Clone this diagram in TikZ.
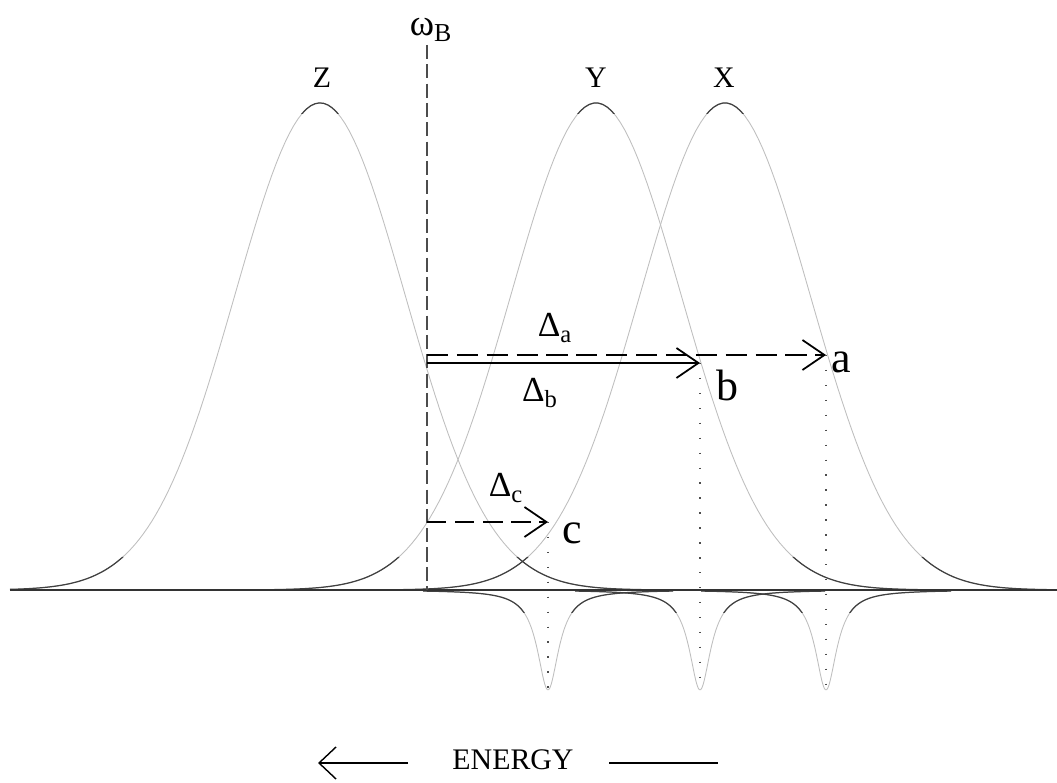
\documentclass[tikz,border=0pt]{standalone}
\usepackage{fontspec}
\setmainfont{Liberation Serif}
\usetikzlibrary{arrows.meta}

\tikzset{
  band/.style={gray!50, line width=0.5pt},
  banddark/.style={black!75, line width=0.7pt},
  shiftarrow/.style={line width=1pt, -{Straight Barb[length=4.4mm,width=6mm]}},
  guide/.style={black!70, line width=1pt, dash pattern=on 0.8pt off 7.7pt},
  lbl/.style={inner sep=0pt},
}

\begin{document}
\begin{tikzpicture}[x=0.02cm, y=0.02cm]
  \useasboundingbox (0,0) rectangle (1057,783);
  % Gaussian bands and holes, faint
  \foreach \c/\lo/\hi in {320/10/650, 596/266/926, 725/395/1055}
    \draw[band] plot[domain=\lo:\hi, samples=150] (\x, {193+487*exp(-0.5*((\x-\c)/85)^2)});
  \foreach \c in {548,700,826}
    \draw[band] plot[domain=\c-125:\c+125, samples=200] (\x, {193-100/(1+((\x-\c)/13)^2)});
  % darker parts near baseline and at the tops
  \begin{scope}
    \clip (0,170) rectangle (1057,226) (0,669) rectangle (1057,690);
    \foreach \c/\lo/\hi in {320/10/650, 596/266/926, 725/395/1055}
      \draw[banddark] plot[domain=\lo:\hi, samples=150] (\x, {193+487*exp(-0.5*((\x-\c)/85)^2)});
    \foreach \c in {548,700,826}
      \draw[banddark] plot[domain=\c-125:\c+125, samples=200] (\x, {193-100/(1+((\x-\c)/13)^2)});
  \end{scope}
  % Baseline
  \draw[line width=1pt, black!80] (10,193) -- (1057,193);
  % Burn frequency
  \node[lbl] (wB) at (431,753) {\fontsize{21}{24}\selectfont ω\textsubscript{B}};
  \coordinate (wtop) at (427,738);
  \coordinate (wbot) at (427,193);
  \draw[black!70, line width=0.6pt, dash pattern=on 8pt off 3pt] (wtop) -- (wbot);
  % Band labels
  \node[lbl] (Z) at (322,705) {\fontsize{17}{20}\selectfont Z};
  \node[lbl] (Y) at (596,705) {\fontsize{17}{20}\selectfont Y};
  \node[lbl] (X) at (724,705) {\fontsize{17}{20}\selectfont X};
  % Shifts
  \coordinate (sa) at (427,428);
  \coordinate (sb) at (427,420);
  \coordinate (sc) at (427,261);
  \coordinate (pa) at (826,428);
  \coordinate (pb) at (700,420);
  \coordinate (pc) at (548,261);
  \coordinate (ha) at (826,93);
  \coordinate (hb) at (700,93);
  \coordinate (hc) at (548,93);
  \draw[shiftarrow, dash pattern=on 12pt off 5pt] (sa) -- (pa);
  \draw[shiftarrow] (sb) -- (pb);
  \draw[shiftarrow, dash pattern=on 11pt off 5pt] (sc) -- (pc);
  \draw[guide] (pa) -- (ha);
  \draw[guide] (pb) -- (hb);
  \draw[guide] (pc) -- (hc);
  \node[lbl] (Da) at (555,455) {\fontsize{20}{24}\selectfont Δ\textsubscript{a}};
  \node[lbl] (Db) at (540,390) {\fontsize{20}{24}\selectfont Δ\textsubscript{b}};
  \node[lbl] (Dc) at (506,295) {\fontsize{20}{24}\selectfont Δ\textsubscript{c}};
  \node[lbl] (a) at (841,421) {\fontsize{25}{30}\selectfont a};
  \node[lbl] (b) at (727,398) {\fontsize{25}{30}\selectfont b};
  \node[lbl] (c) at (572,250) {\fontsize{25}{30}\selectfont c};
  % Energy axis
  \node[lbl] (energy) at (513,23) {\fontsize{17}{20}\selectfont ENERGY};
  \coordinate (el) at (318,20);
  \coordinate (er) at (718,20);
  \draw[line width=0.8pt, -{Straight Barb[length=3.4mm,width=6.4mm]}] ([xshift=-25]energy.west |- el) -- (el);
  \draw[line width=0.8pt] ([xshift=20]energy.east |- er) -- (er);
\end{tikzpicture}
\end{document}
